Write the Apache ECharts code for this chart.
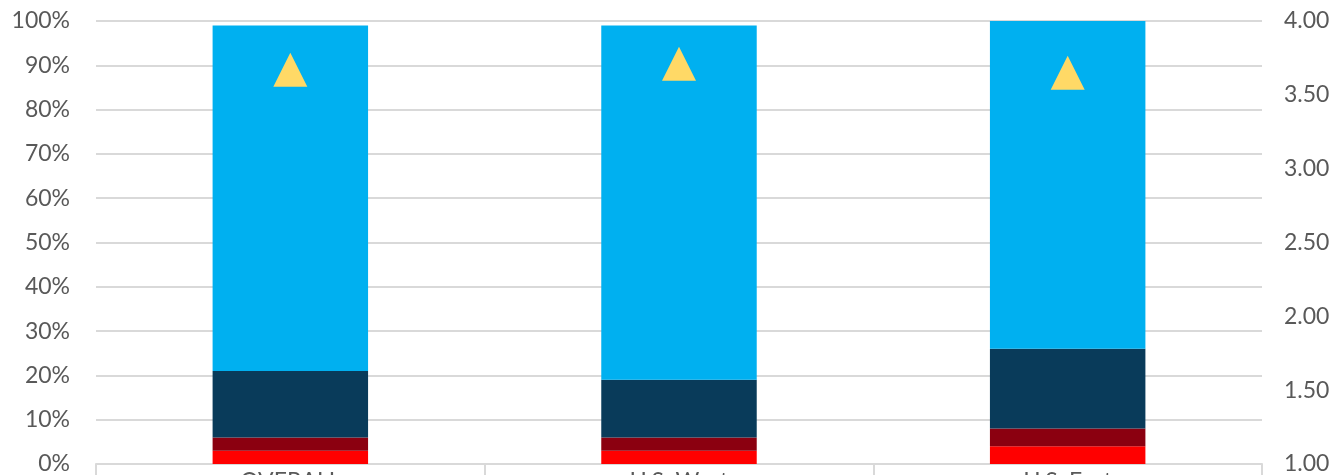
<!DOCTYPE html>
<html>
<head>
<meta charset="utf-8">
<script src="https://cdn.jsdelivr.net/npm/echarts@6/dist/echarts.min.js"></script>
<style>html,body{margin:0;padding:0;background:#fff;}#c{width:1342px;height:475px;}</style>
</head>
<body>
<div id="c"></div>
<script>
const categories = ['OVERALL', 'U.S. West', 'U.S. East'];
const redVals = [3, 3, 4];
const darkRedVals = [3, 3, 4];
const navyVals = [15, 13, 18];
const blueVals = [78, 80, 74];
const scoreVals = [3.67, 3.71, 3.65];

const chart = echarts.init(document.getElementById('c'));
const font = 'Lato, "Open Sans", sans-serif';
function bar(name, data, color) {
  return { name, type: 'bar', stack: 's', data, barWidth: '40%', itemStyle: { color }, yAxisIndex: 0 };
}
chart.setOption({
  animation: false,
  grid: { left: 96, right: 80, top: 21, bottom: 11, containLabel: false, outerBoundsMode: 'none' },
  xAxis: {
    type: 'category', data: categories,
    axisLine: { lineStyle: { color: '#D9D9D9', width: 2 } },
    axisTick: { show: true, length: 16, lineStyle: { color: '#D9D9D9', width: 2 } },
    axisLabel: { color: '#595959', fontSize: 23, fontFamily: font, margin: 6 }
  },
  yAxis: [
    {
      type: 'value', min: 0, max: 100, interval: 10,
      axisLabel: { formatter: v => v + '%', color: '#595959', fontSize: 23, fontFamily: font, margin: 26 },
      splitLine: { lineStyle: { color: '#D9D9D9', width: 2 } },
      axisLine: { show: false }, axisTick: { show: false }
    },
    {
      type: 'value', min: 1, max: 4, interval: 0.5,
      axisLabel: { formatter: v => v.toFixed(2), color: '#595959', fontSize: 23, fontFamily: font, margin: 22 },
      splitLine: { show: false }, axisLine: { show: false }, axisTick: { show: false }
    }
  ],
  series: [
    bar('Red', redVals, '#FF0000'),
    bar('Dark red', darkRedVals, '#8B0010'),
    bar('Navy', navyVals, '#093B5A'),
    bar('Blue', blueVals, '#00B0F0'),
    { name: 'Score', type: 'scatter', yAxisIndex: 1, data: scoreVals, symbol: 'triangle', symbolSize: 34,
      itemStyle: { color: '#FFD966', opacity: 1 }, z: 10 }
  ]
});
</script>
</body>
</html>
